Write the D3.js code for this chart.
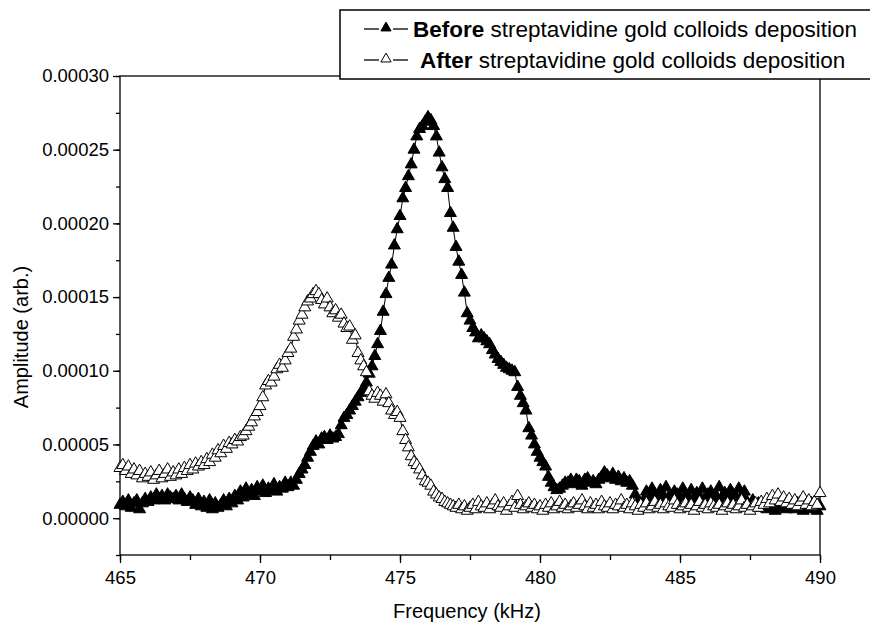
<!DOCTYPE html>
<html><head><meta charset="utf-8">
<script src="https://cdn.jsdelivr.net/npm/d3@7"></script>
<style>body{margin:0;background:#fff}svg{display:block}text{font-family:"Liberation Sans",Arial,Helvetica,sans-serif;fill:#000}</style>
</head><body><svg id="c" width="870" height="630"></svg>
<script>
// Frequency grid (kHz): start, step, count
const freqStart = 465.0;
const freqStep = 0.1;
// Amplitudes in units of 1e-5 (arb.)
const beforeAmp = [
0.9,1.1,0.8,1.2,0.7,1.0,1.2,0.6,1.0,1.3,
1.1,1.4,1.2,1.6,1.3,1.5,1.2,1.6,1.4,1.3,
1.5,1.2,1.6,1.3,1.1,1.4,1.2,0.9,1.3,0.8,
1.1,0.7,1.2,0.6,1.0,0.7,0.9,1.2,0.8,1.3,
1.0,1.5,1.2,1.8,1.4,2.0,1.6,1.9,1.5,2.1,
1.8,2.2,1.7,2.0,1.9,2.3,1.8,2.1,2.0,2.4,
2.1,2.4,2.2,2.6,3.0,3.3,3.6,4.1,4.5,4.9,
5.2,5.0,5.4,5.5,5.3,5.6,5.4,5.5,5.7,6.3,
6.8,7.0,7.3,7.6,7.9,8.2,8.5,8.8,9.2,9.8,
10.3,11.0,11.8,12.7,14.0,15.2,16.3,17.2,18.5,19.6,
20.5,21.7,22.4,23.2,24.0,25.0,25.9,26.4,26.6,26.9,
27.2,27.0,26.6,25.9,24.8,23.8,23.0,22.4,20.7,19.7,
18.4,17.4,16.5,15.3,13.9,13.4,12.9,12.6,12.2,12.4,
12.2,12.0,11.8,11.4,11.1,10.8,10.6,10.4,10.2,10.1,
10.0,9.9,8.9,8.3,7.8,7.3,6.1,5.6,5.0,4.5,
4.1,3.8,3.5,2.8,2.4,2.1,1.9,2.0,2.2,2.4,
2.4,2.6,2.3,2.6,2.5,2.2,2.6,2.7,2.4,2.5,
2.3,2.6,2.8,3.1,2.9,2.7,3.0,2.6,2.8,2.5,
2.7,2.4,2.5,2.2,1.6,1.1,0.8,1.2,1.8,1.4,
2.0,1.6,1.3,1.9,1.5,2.1,1.4,1.2,1.8,1.6,
1.3,2.0,1.6,1.4,1.9,1.2,1.7,1.5,2.0,1.3,
1.6,1.8,1.2,1.5,2.1,1.4,1.7,1.3,1.9,1.6,
1.4,2.0,1.5,1.8,1.1,0.9,1.2,0.8,1.0,0.7,
0.9,0.6,1.0,0.8,0.5,0.9,0.7,1.0,0.6,0.8,
0.9,0.6,1.0,0.7,0.5,0.8,0.6,1.0,0.7,0.5,
0.8];
const afterAmp = [
3.4,3.6,3.2,3.5,3.0,3.3,2.9,3.2,2.7,3.0,
2.8,3.1,2.6,2.9,3.2,2.7,3.0,3.3,2.8,3.1,
2.9,3.3,3.0,3.4,3.2,3.6,3.3,3.7,3.5,3.8,
3.6,4.0,3.8,4.3,4.1,4.6,4.4,4.9,4.7,5.1,
5.0,5.3,5.2,5.5,5.6,5.9,6.2,6.5,6.9,7.2,
7.6,8.2,9.0,9.3,9.2,9.6,10.1,10.4,10.2,10.7,
11.2,11.5,12.3,12.8,13.4,13.8,14.3,14.7,14.9,15.2,
15.4,15.2,14.8,14.5,14.9,14.3,13.9,14.1,13.6,13.8,
13.2,12.9,13.0,12.1,12.4,11.2,10.7,10.3,9.9,8.6,
8.3,8.1,8.5,8.3,7.9,8.4,7.8,7.3,7.0,7.2,
6.8,5.9,5.3,4.8,4.2,3.8,3.6,3.3,2.9,2.5,
2.4,2.2,1.8,1.6,1.4,1.3,1.1,1.0,0.9,0.8,
0.7,0.9,0.6,0.8,0.5,0.7,0.9,0.6,1.1,0.8,
0.7,1.0,0.6,0.9,1.2,0.8,0.7,1.0,0.5,0.8,
1.1,0.7,1.5,0.9,0.6,0.8,1.0,0.7,0.9,0.6,
0.8,0.5,0.9,0.7,1.0,0.6,0.8,1.1,0.7,0.9,
0.6,0.8,1.0,0.7,0.9,1.2,0.8,0.6,1.0,0.7,
0.9,0.6,1.1,0.8,0.7,1.0,0.6,0.9,0.8,1.2,
0.7,0.9,0.6,1.0,0.8,0.5,0.9,0.7,1.0,0.6,
0.8,1.1,0.7,0.9,0.6,1.0,0.8,0.7,1.2,0.9,
0.6,0.8,1.0,0.7,0.9,0.5,0.8,1.1,0.7,0.9,
0.6,1.0,0.8,0.7,0.9,0.5,0.8,1.0,0.7,0.9,
0.6,0.8,1.2,0.7,0.9,0.5,0.8,1.0,0.7,1.1,
0.9,1.3,1.0,1.5,1.2,1.6,1.1,1.4,1.0,1.3,
0.9,1.2,0.8,1.1,1.4,0.9,1.2,0.8,1.1,0.9,
1.7];
const ampUnit = 1e-5;
const xTicks = [465, 470, 475, 480, 485, 490];
const yTicks = [0, 0.00005, 0.0001, 0.00015, 0.0002, 0.00025, 0.0003];
const seriesNames = ["Before", "After"];
const legendRest = " streptavidine gold colloids deposition";
const xTitle = "Frequency (kHz)";
const yTitle = "Amplitude (arb.)";

const toPoints = arr => arr.map((v, i) => ({f: +(freqStart + i * freqStep).toFixed(2), a: v * ampUnit}));
const before = toPoints(beforeAmp), after = toPoints(afterAmp);

const L = 120, R = 820, T = 76, B = 555;
const svg = d3.select("#c");
const x = d3.scaleLinear().domain([465, 490]).range([L, R]);
const y = d3.scaleLinear().domain([-0.000025, 0.0003]).range([B, T]);

// frame
svg.append("rect").attr("x", L).attr("y", T).attr("width", R - L).attr("height", B - T)
  .attr("fill", "none").attr("stroke", "#000").attr("stroke-width", 1.3);

// x axis
const xMinor = d3.range(465, 490.01, 2.5);
const gx = svg.append("g").attr("transform", `translate(0,${B})`);
gx.call(d3.axisBottom(x).tickValues(xMinor).tickSize(5).tickFormat(""));
gx.call(g => g.select(".domain").remove());
const gx2 = svg.append("g").attr("transform", `translate(0,${B})`)
  .call(d3.axisBottom(x).tickValues(xTicks).tickSize(8).tickPadding(8).tickFormat(d3.format("d")));
gx2.select(".domain").remove();
gx2.selectAll("text").attr("font-size", 18.5).attr("font-family", "Liberation Sans, Arial, sans-serif");

// y axis
const yMinor = d3.range(-0.000025, 0.0003001, 0.000025);
const gy = svg.append("g").attr("transform", `translate(${L},0)`)
  .call(d3.axisLeft(y).tickValues(yMinor).tickSize(4).tickFormat(""));
gy.select(".domain").remove();
const gy2 = svg.append("g").attr("transform", `translate(${L},0)`)
  .call(d3.axisLeft(y).tickValues(yTicks).tickSize(7).tickPadding(4).tickFormat(d => d.toFixed(5)));
gy2.select(".domain").remove();
svg.selectAll("g line").attr("stroke-width", 1.3);
gy2.selectAll("text").attr("font-size", 18.5).attr("font-family", "Liberation Sans, Arial, sans-serif");

// titles
svg.append("text").attr("x", (L + R) / 2 - 3).attr("y", 618).attr("text-anchor", "middle")
  .attr("font-size", 20).text(xTitle);
svg.append("text").attr("transform", `translate(28,337) rotate(-90)`)
  .attr("text-anchor", "middle").attr("font-size", 20).text(yTitle);

// series
const line = d3.line().x(d => x(d.f)).y(d => y(d.a));
const tri = d3.symbol().type(d3.symbolTriangle).size(62);
function drawSeries(data, fill) {
  const g = svg.append("g");
  g.append("path").datum(data).attr("d", line).attr("fill", "none").attr("stroke", "#000").attr("stroke-width", 1);
  g.selectAll("path.m").data(data).join("path").attr("class", "m")
    .attr("transform", d => `translate(${x(d.f)},${y(d.a)})`).attr("d", tri)
    .attr("fill", fill).attr("stroke", "#000").attr("stroke-width", 1);
}
drawSeries(before, "#000");
drawSeries(after, "#fff");

// legend
const lg = svg.append("g");
lg.append("rect").attr("x", 340).attr("y", 10).attr("width", 540).attr("height", 69)
  .attr("fill", "#fff").attr("stroke", "#000").attr("stroke-width", 1.5);
const rows = [{name: seriesNames[0], fill: "#000", yy: 29, tx: 413}, {name: seriesNames[1], fill: "#fff", yy: 60, tx: 420}];
rows.forEach(r => {
  lg.append("line").attr("x1", 364).attr("x2", 379).attr("y1", r.yy).attr("y2", r.yy).attr("stroke", "#000").attr("stroke-width", 1.3);
  lg.append("line").attr("x1", 393).attr("x2", 408).attr("y1", r.yy).attr("y2", r.yy).attr("stroke", "#000").attr("stroke-width", 1.3);
  lg.append("path").attr("transform", `translate(386,${r.yy - 1})`).attr("d", d3.symbol().type(d3.symbolTriangle).size(45)())
    .attr("fill", r.fill).attr("stroke", "#000");
  const t = lg.append("text").attr("x", r.tx).attr("y", r.yy + 8).attr("font-size", 22.5);
  t.append("tspan").attr("font-weight", "bold").text(r.name);
  t.append("tspan").text(legendRest);
});
</script></body></html>
